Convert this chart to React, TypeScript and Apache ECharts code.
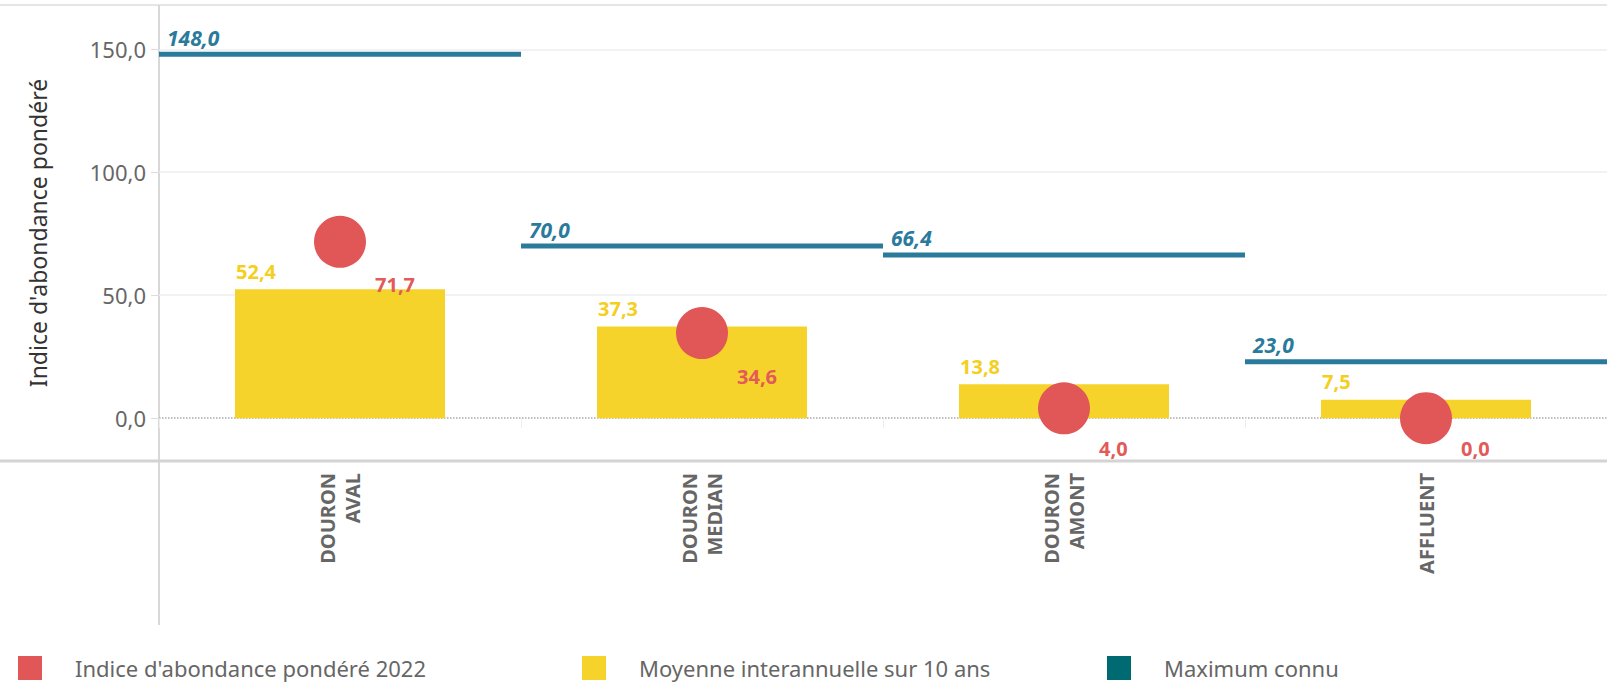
import React, { useEffect, useRef } from "react";
import * as echarts from "echarts";

const categories = ["DOURON\nAVAL", "DOURON\nMEDIAN", "DOURON\nAMONT", "AFFLUENT"];
const indice2022 = [71.7, 34.6, 4.0, 0.0];
const moyenne10ans = [52.4, 37.3, 13.8, 7.5];
const maximumConnu = [148.0, 70.0, 66.4, 23.0];
const yTicks = [0, 50, 100, 150];
const yMin = -17.4;
const yMax = 168;

const S_INDICE = "Indice d'abondance pondéré 2022";
const S_MOY = "Moyenne interannuelle sur 10 ans";
const S_MAX = "Maximum connu";

const fmt = (v: number) => v.toFixed(1).replace(".", ",");
const FONT = "'Noto Sans', sans-serif";

export default function App() {
  const ref = useRef<HTMLDivElement>(null);
  useEffect(() => {
    const chart = echarts.init(ref.current!, null, { renderer: "svg" });
    const legendBase = {
      orient: "horizontal",
      top: 655,
      padding: 0,
      itemWidth: 24,
      itemHeight: 24,
      selectedMode: false,
      textStyle: { fontSize: 22, lineHeight: 26, color: "#666", fontFamily: FONT, padding: [0, 0, 0, 28] },
    };
    chart.setOption({
      animation: false,
      textStyle: { fontFamily: FONT },
      grid: { left: 159, top: 5, width: 1452, height: 456 },
      legend: [
        { ...legendBase, left: 18, data: [{ name: S_INDICE, icon: "rect" }] },
        { ...legendBase, left: 582, data: [{ name: S_MOY, icon: "rect" }] },
        { ...legendBase, left: 1107, data: [{ name: S_MAX, icon: "rect" }] },
      ],
      xAxis: {
        type: "category",
        data: categories,
        axisLine: { show: false },
        axisTick: { show: true, length: 10, lineStyle: { color: "#eeeeee" } },
        axisLabel: {
          rotate: 90,
          interval: 0,
          margin: 12,
          color: "#666",
          fontSize: 20,
          fontWeight: "bold",
          lineHeight: 25,
          fontFamily: FONT,
        },
        splitLine: { show: false },
      },
      yAxis: {
        type: "value",
        min: yMin,
        max: yMax,
        splitNumber: 4,
        name: "Indice d'abondance pondéré",
        nameLocation: "middle",
        nameGap: 110,
        nameTextStyle: { fontSize: 23, color: "#333", fontFamily: FONT },
        axisLine: { show: false },
        axisTick: { show: true, length: 8, lineStyle: { color: "#dddddd" } },
        axisLabel: {
          showMinLabel: false,
          showMaxLabel: false,
          margin: 13,
          color: "#666",
          fontSize: 22,
          fontFamily: FONT,
          formatter: (v: number) => (yTicks.includes(v) ? fmt(v) : ""),
        },
        splitLine: { show: false },
      },
      graphic: [
        { type: "line", silent: true, shape: { x1: 0, y1: 5, x2: 1607, y2: 5 }, style: { stroke: "#e6e6e6", lineWidth: 2 } },
        { type: "line", silent: true, shape: { x1: 159, y1: 5, x2: 159, y2: 625 }, style: { stroke: "#d8d8d8", lineWidth: 2 } },
        { type: "line", silent: true, shape: { x1: 0, y1: 461, x2: 1607, y2: 461 }, style: { stroke: "#d4d4d4", lineWidth: 3 } },
      ],
      series: [
        {
          type: "line",
          data: [],
          z: 0,
          silent: true,
          markLine: {
            z: 0,
            silent: true,
            symbol: "none",
            label: { show: false },
            data: yTicks.map((t) => ({
              yAxis: t,
              lineStyle: t === 0
                ? { type: "dotted", color: "#aaaaaa", width: 1.5 }
                : { type: "solid", color: "#eeeeee", width: 1.5 },
            })),
          },
        },
        {
          name: S_MOY,
          type: "bar",
          data: moyenne10ans,
          barWidth: 210,
          z: 2,
          itemStyle: { color: "#f6d32a" },
          label: {
            show: true,
            position: [1, -18],
            align: "left",
            verticalAlign: "middle",
            color: "#f4cf22",
            fontSize: 20,
            fontWeight: "bold",
            fontFamily: FONT,
            formatter: (p: any) => fmt(p.value),
          },
        },
        {
          name: S_INDICE,
          type: "scatter",
          data: indice2022,
          symbolSize: 52,
          z: 4,
          itemStyle: { color: "#e15757", opacity: 1 },
          label: {
            show: true,
            position: "inside",
            offset: [35, 43],
            align: "left",
            verticalAlign: "middle",
            color: "#e25a5a",
            fontSize: 20,
            fontWeight: "bold",
            fontFamily: FONT,
            formatter: (p: any) => fmt(p.value),
          },
          labelLayout: (p: any) => {
            const cy = p.rect.y + p.rect.height / 2;
            return { dx: 35, dy: Math.min(43, 448 - cy) };
          },
        },
        {
          name: S_MAX,
          type: "custom",
          z: 5,
          itemStyle: { color: "#006a72" },
          data: maximumConnu.map((v, i) => [i, v]),
          encode: { x: 0, y: 1 },
          renderItem: (params: any, api: any) => {
            const c = api.coord([api.value(0), api.value(1)]);
            const w = api.size([1, 0])[0];
            const x0 = c[0] - w / 2;
            return {
              type: "group",
              children: [
                {
                  type: "line",
                  shape: { x1: x0, y1: c[1], x2: x0 + w, y2: c[1] },
                  style: { stroke: "#2a7b9b", lineWidth: 5 },
                },
                {
                  type: "text",
                  x: x0 + 8,
                  y: c[1] - 6,
                  style: {
                    text: fmt(api.value(1)),
                    fill: "#2a7b9b",
                    fontSize: 21,
                    fontWeight: "bold",
                    fontStyle: "italic",
                    fontFamily: FONT,
                    align: "left",
                    verticalAlign: "bottom",
                  },
                },
              ],
            };
          },
        },
      ],
    });
    return () => chart.dispose();
  }, []);
  return (
    <div
      ref={ref}
      style={{ position: "fixed", left: 0, top: 0, width: 1607, height: 683, background: "#fff" }}
    />
  );
}
